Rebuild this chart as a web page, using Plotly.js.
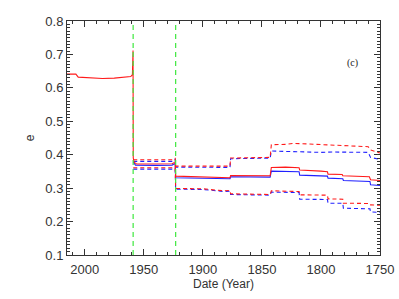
<!DOCTYPE html>
<html><head><meta charset="utf-8">
<script src="https://cdn.plot.ly/plotly-3.0.1.min.js"></script>
<style>html,body{margin:0;padding:0;background:#fff;}#chart{width:399px;height:299px;}</style>
</head><body><div id="chart"></div>
<script>
// Red solid (full record)
const redSolidYears = [2015, 2007.5, 2005.5, 1995, 1985, 1975, 1965, 1961, 1959.6, 1959.1, 1958.9, 1958.2, 1956, 1940, 1926, 1924.5, 1923.4, 1923, 1910, 1895, 1880, 1877, 1876.5, 1860, 1843, 1842, 1830, 1818.5, 1818, 1800, 1794.5, 1794, 1782, 1781.5, 1765, 1759, 1758, 1750];
const redSolidVals  = [0.641, 0.641, 0.632, 0.630, 0.628, 0.629, 0.632, 0.634, 0.640, 0.712, 0.390, 0.378, 0.372, 0.372, 0.373, 0.376, 0.376, 0.336, 0.334, 0.332, 0.331, 0.331, 0.338, 0.337, 0.337, 0.362, 0.363, 0.361, 0.354, 0.351, 0.349, 0.342, 0.341, 0.337, 0.335, 0.334, 0.325, 0.323];
// Blue solid
const blueSolidYears = [1958.9, 1957, 1940, 1926, 1924, 1923.4, 1923, 1900, 1877, 1876.5, 1843, 1842, 1818.5, 1818, 1794.5, 1794, 1781.5, 1781, 1758.5, 1758, 1750];
const blueSolidVals  = [0.378, 0.369, 0.368, 0.369, 0.373, 0.373, 0.331, 0.329, 0.328, 0.334, 0.333, 0.351, 0.349, 0.339, 0.336, 0.330, 0.328, 0.323, 0.320, 0.310, 0.308];
// Red dashed upper
const redUpYears = [1958.9, 1940, 1926, 1924.5, 1923.4, 1923, 1900, 1877, 1876.5, 1860, 1843, 1842, 1830, 1823, 1810, 1794, 1780, 1760, 1758, 1750];
const redUpVals  = [0.385, 0.384, 0.385, 0.389, 0.389, 0.366, 0.366, 0.366, 0.390, 0.391, 0.392, 0.430, 0.431, 0.434, 0.432, 0.428, 0.427, 0.424, 0.414, 0.405];
// Blue dashed upper
const blueUpYears = [1958.9, 1940, 1926, 1924, 1923.4, 1923, 1900, 1877, 1876.5, 1843, 1842, 1818, 1800, 1790, 1780, 1760, 1758, 1750];
const blueUpVals  = [0.380, 0.379, 0.380, 0.386, 0.386, 0.363, 0.362, 0.362, 0.388, 0.390, 0.411, 0.408, 0.407, 0.408, 0.407, 0.407, 0.392, 0.386];
// Red dashed lower
const redLowYears = [1958.9, 1940, 1926, 1923.4, 1923, 1900, 1882, 1877, 1876.5, 1843, 1842, 1818.5, 1818, 1794.5, 1794, 1781.5, 1781, 1758.5, 1758, 1750];
const redLowVals  = [0.361, 0.360, 0.360, 0.361, 0.299, 0.298, 0.292, 0.293, 0.283, 0.281, 0.292, 0.290, 0.280, 0.279, 0.268, 0.267, 0.255, 0.254, 0.250, 0.249];
// Blue dashed lower
const blueLowYears = [1958.9, 1940, 1923.4, 1923, 1900, 1882, 1877, 1876.5, 1843, 1842, 1818.5, 1818, 1794.5, 1794, 1781.5, 1781, 1758.5, 1758, 1750];
const blueLowVals  = [0.357, 0.356, 0.357, 0.297, 0.296, 0.290, 0.291, 0.281, 0.279, 0.288, 0.287, 0.267, 0.266, 0.255, 0.255, 0.240, 0.238, 0.229, 0.227];
// Vertical markers
const markerYears = [1959, 1923];
const xTickVals = [2000, 1950, 1900, 1850, 1800, 1750];
const xTickText = ['2000', '1950', '1900', '1850', '1800', '1750'];
const yTickVals = [0.1, 0.2, 0.3, 0.4, 0.5, 0.6, 0.7, 0.8];
const yTickText = ['0.1', '0.2', '0.3', '0.4', '0.5', '0.6', '0.7', '0.8'];

const RED = '#ff1a1a', BLUE = '#2020ff';
const mk = (x, y, color, dash) => ({x, y, type: 'scatter', mode: 'lines', line: {color, width: 1.1, dash: dash || 'solid'}, hoverinfo: 'skip'});

const traces = [
  mk(blueUpYears, blueUpVals, BLUE, '4px,3px'),
  mk(blueLowYears, blueLowVals, BLUE, '4px,3px'),
  mk(blueSolidYears, blueSolidVals, BLUE),
  mk(redUpYears, redUpVals, RED, '4px,3px'),
  mk(redLowYears, redLowVals, RED, '4px,3px'),
  mk(redSolidYears, redSolidVals, RED)
];

const axisFont = {family: 'Liberation Sans, Arial, sans-serif', size: 13, color: '#333'};
const layout = {
  width: 399, height: 299,
  margin: {l: 67, r: 19, t: 21, b: 44},
  paper_bgcolor: '#fff', plot_bgcolor: '#fff',
  showlegend: false,
  font: axisFont,
  xaxis: {
    range: [2015, 1750], tickvals: xTickVals, ticktext: xTickText,
    ticks: 'inside', ticklen: 6, tickcolor: '#333', tickwidth: 1,
    minor: {dtick: 10, tick0: 2000, ticks: 'inside', ticklen: 3, tickcolor: '#333'},
    showline: true, linecolor: '#333', linewidth: 1, mirror: 'ticks',
    showgrid: false, zeroline: false, tickfont: axisFont, ticklabelstandoff: 2,
    title: {text: 'Date (Year)', font: {family: 'Liberation Sans, Arial, sans-serif', size: 12, color: '#333'}, standoff: 2}
  },
  yaxis: {
    range: [0.1, 0.8], tickvals: yTickVals, ticktext: yTickText,
    ticks: 'inside', ticklen: 6, tickcolor: '#333', tickwidth: 1,
    minor: {dtick: 0.01, tick0: 0.1, ticks: 'inside', ticklen: 3, tickcolor: '#333'},
    showline: true, linecolor: '#333', linewidth: 1, mirror: 'ticks',
    showgrid: false, zeroline: false, tickfont: axisFont,
    title: {text: 'e', font: {family: 'Liberation Sans, Arial, sans-serif', size: 12, color: '#333'}, standoff: 8}
  },
  shapes: markerYears.map(yr => ({type: 'line', xref: 'x', yref: 'paper', x0: yr, x1: yr, y0: 0, y1: 1,
    line: {color: '#3ee83e', width: 1.2, dash: '5px,4px'}})),
  annotations: [{text: '(c)', xref: 'paper', yref: 'paper', x: 0.935, y: 0.855, showarrow: false,
    font: {family: 'Liberation Serif, Times New Roman, serif', size: 10, color: '#222'}}]
};
Plotly.newPlot('chart', traces, layout, {staticPlot: true, displayModeBar: false});
</script></body></html>
